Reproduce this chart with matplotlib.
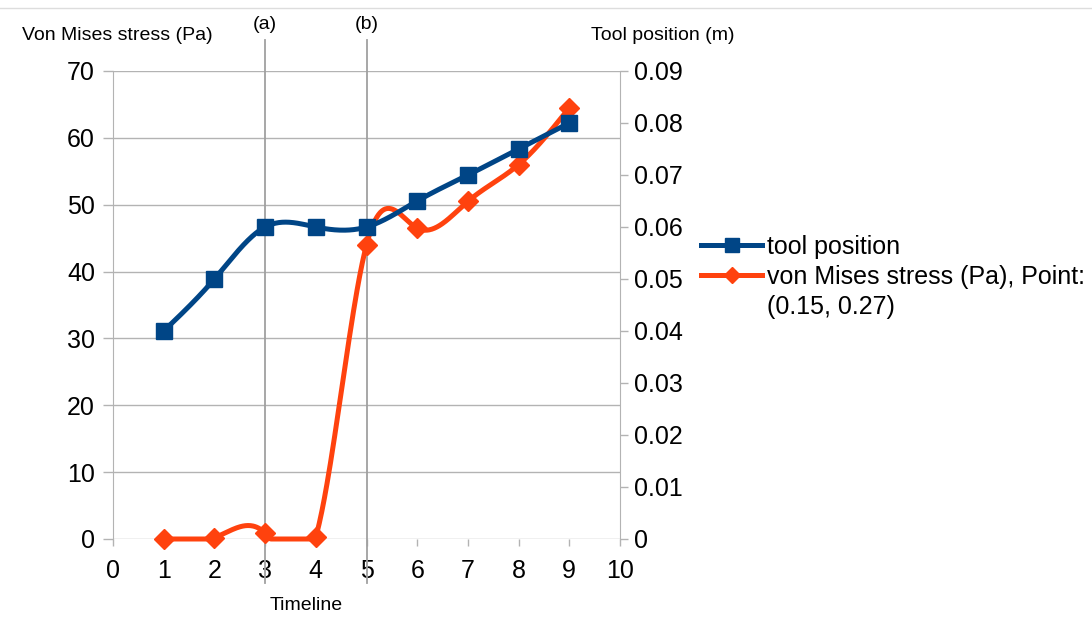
import numpy as np
import matplotlib.pyplot as plt
from matplotlib.lines import Line2D

plt.rcParams['font.family'] = ['Liberation Sans', 'DejaVu Sans']

# data
timeline = [1, 2, 3, 4, 5, 6, 7, 8, 9]
tool_position = [0.040, 0.050, 0.060, 0.060, 0.060, 0.065, 0.070, 0.075, 0.080]
von_mises = [0.0, 0.2, 0.9, 0.3, 44.0, 46.5, 50.5, 56.0, 64.5]
markers_x = [3, 5]
markers_lbl = ['(a)', '(b)']

blue = '#004586'
orange = '#ff420e'
grid_c = '#b3b3b3'


def spline_line(xs, ys, n=60):
    # natural cubic spline through the points (the chart's "smooth" line style)
    x = np.asarray(xs, float)
    y = np.asarray(ys, float)
    k = len(x)
    h = np.diff(x)
    A = np.zeros((k, k))
    b = np.zeros(k)
    A[0, 0] = A[-1, -1] = 1
    for i in range(1, k - 1):
        A[i, i - 1] = h[i - 1]
        A[i, i] = 2 * (h[i - 1] + h[i])
        A[i, i + 1] = h[i]
        b[i] = 6 * ((y[i + 1] - y[i]) / h[i] - (y[i] - y[i - 1]) / h[i - 1])
    M = np.linalg.solve(A, b)
    px, py = [], []
    for i in range(k - 1):
        s = np.linspace(x[i], x[i + 1], n)
        a1 = x[i + 1] - s
        a2 = s - x[i]
        px.append(s)
        py.append(M[i] * a1 ** 3 / (6 * h[i]) + M[i + 1] * a2 ** 3 / (6 * h[i])
                  + (y[i] / h[i] - M[i] * h[i] / 6) * a1
                  + (y[i + 1] / h[i] - M[i + 1] * h[i] / 6) * a2)
    return np.concatenate(px), np.concatenate(py)


fig = plt.figure(figsize=(10.92, 6.19), dpi=100)
ax = fig.add_axes([113 / 1092, 1 - 539 / 619, (620 - 113) / 1092, (539 - 71) / 619])
ax2 = ax.twinx()

ax.set_xlim(0, 10)
ax.set_ylim(0, 70)
ax2.set_ylim(0, 0.09)
ax.set_xticks(range(0, 11))
ax.set_yticks(range(0, 71, 10))
ax2.set_yticks(np.arange(0, 0.091, 0.01))
ax2.set_yticklabels(['0'] + ['%.2f' % v for v in np.arange(0.01, 0.091, 0.01)])

for a in (ax, ax2):
    for sp in a.spines.values():
        sp.set_visible(False)
    a.tick_params(labelsize=18, color=grid_c, width=1)
ax.spines['left'].set_visible(True)
ax.spines['left'].set_color(grid_c)
ax2.spines['right'].set_visible(True)
ax2.spines['right'].set_color(grid_c)
ax.tick_params(axis='y', length=7, pad=6)
ax2.tick_params(axis='y', length=6, pad=4)
ax.tick_params(axis='x', length=5, pad=9.5)
ax.yaxis.grid(True, color=grid_c, lw=1)
ax.set_axisbelow(True)

# (a) / (b) markers
for xm, lbl in zip(markers_x, markers_lbl):
    ax.plot([xm, xm], [-6.6, 74.6], color='#a0a0a0', lw=1.3, clip_on=False, zorder=1)
    ax.text(xm, 76.9, lbl, ha='center', va='center', fontsize=14)

# series, the smooth line is held at the axis floor like the original chart does
sx, sy = spline_line(timeline, von_mises)
ax.plot(sx, np.clip(sy, 0, 70), color=orange, lw=3.6, solid_capstyle='round',
        clip_on=False, zorder=3)
ax.plot(timeline, von_mises, ls='none', marker='D', ms=10, color=orange,
        clip_on=False, zorder=3)

tx, ty = spline_line(timeline, tool_position)
ax2.plot(tx, ty, color=blue, lw=3.6, solid_capstyle='round', zorder=3)
ax2.plot(timeline, tool_position, ls='none', marker='s', ms=12, color=blue, zorder=3)

# axis titles
fig.text(117 / 1092, 1 - 36 / 619, 'Von Mises stress (Pa)', ha='center', va='center', fontsize=14)
fig.text(663 / 1092, 1 - 36 / 619, 'Tool position (m)', ha='center', va='center', fontsize=14)
fig.text(306 / 1092, 1 - 605 / 619, 'Timeline', ha='center', va='center', fontsize=14)

# legend (third row is the wrapped part of the second label)
handles = [
    Line2D([], [], color=blue, lw=3.6, marker='s', ms=10),
    Line2D([], [], color=orange, lw=3.6, marker='D', ms=8),
    Line2D([], [], color='none'),
]
labels = ['tool position', 'von Mises stress (Pa), Point:', '(0.15, 0.27)']
fig.legend(handles, labels, loc='center left', bbox_to_anchor=(701 / 1092, 1 - 277 / 619),
           frameon=False, fontsize=18, handlelength=2.45, handletextpad=0.18,
           labelspacing=0.25, borderpad=0, borderaxespad=0)

# light frame line at the top of the picture
fig.add_artist(Line2D([0, 1], [1 - 8 / 619, 1 - 8 / 619], color='#dddddd', lw=1))

fig.savefig('out.png', dpi=100)
